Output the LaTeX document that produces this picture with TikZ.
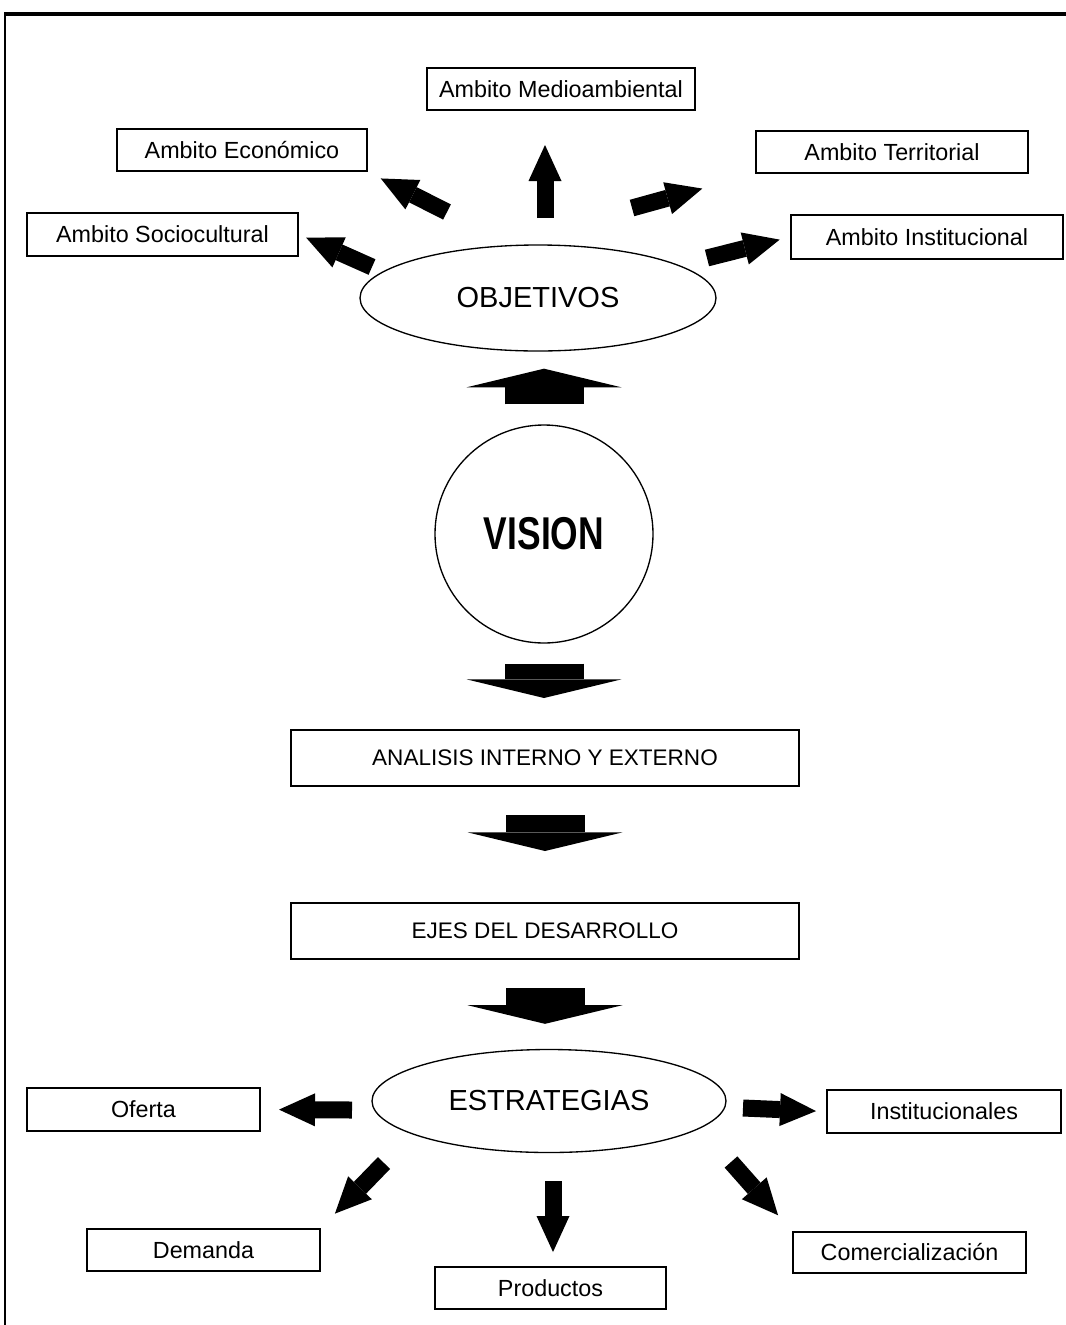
\documentclass[tikz,border=0pt]{standalone}
\usepackage{fontspec}
\setmainfont{Liberation Sans}
\usetikzlibrary{shapes.geometric}
\usetikzlibrary{arrows.meta}
\usetikzlibrary{calc}

\tikzset{
  ambito/.style={draw, line width=1.5pt, inner sep=0pt, minimum height=31.5pt,
    font=\fontsize{17.5}{20}\selectfont},
  etapa/.style={draw, line width=1.5pt, inner sep=0pt, minimum width=381pt,
    minimum height=42pt, font=\fontsize{16.9}{20}\selectfont},
  bloque/.style={draw, ellipse, line width=1pt, inner sep=0pt,
    font=\fontsize{21.75}{24}\selectfont},
  fatarrow/.style={line width=12.75pt,
    -{Triangle[width=24.75pt,length=27pt,line width=0pt]}},
  widearrow/.style={line width=59.25pt,
    -{Triangle[width=116.25pt,length=14pt,line width=0pt]}},
}

\begin{document}
\begin{tikzpicture}[x=0.75pt, y=-0.75pt]
\useasboundingbox (0,0) rectangle (1066,1325);

%---------------------------------------
% Frame (top and left only)
%---------------------------------------
\draw[line width=3pt] (5,14) -- (1066,14);
\draw[line width=1.5pt] (5,12) -- (5,1325);

%====================================================
% TOP: objetivos and ambitos
%====================================================
\node[bloque, minimum width=267pt, minimum height=79.5pt] (obj) at (538,298) {OBJETIVOS};

\node[ambito, minimum width=201pt] (medio) at (561,89) {Ambito Medioambiental};
\node[ambito, minimum width=187.5pt] (eco) at (242,150) {Ambito Económico};
\node[ambito, minimum width=204pt] (ter) at (892,152) {Ambito Territorial};
\node[ambito, minimum width=203.25pt, minimum height=32.25pt] (soc) at (162.5,234.5) {Ambito Sociocultural};
\node[ambito, minimum width=204pt, minimum height=33pt] (ins) at (927,237) {Ambito Institucional};

% tails of the arrows
\coordinate (o-up) at (545,218);
\coordinate (o-eco) at (447,212);
\coordinate (o-soc) at (372,267);
\coordinate (o-ter) at (632,208);
\coordinate (o-ins) at (707,258);

\draw[fatarrow, shorten >=25.5pt] (o-up) -- (o-up |- medio.south);
\draw[fatarrow, shorten >=10.7pt] (o-eco) -- (eco.south east);
\draw[fatarrow, shorten >=5.9pt] (o-soc) -- (soc.east);
\draw[fatarrow, shorten >=41pt] (o-ter) -- (ter.south west);
\draw[fatarrow, shorten >=8pt] (o-ins) -- (ins.west);

%====================================================
% MIDDLE: vision, analisis, ejes
%====================================================
\node[draw, circle, line width=1pt, inner sep=0pt, minimum size=163.5pt,
      font=\fontsize{34.5}{36}\selectfont\bfseries] (vision) at (544,534)
      {\scalebox{0.77}[1]{VISION}};

\node[etapa] (analisis) at (545,758) {ANALISIS INTERNO Y EXTERNO};
\node[etapa] (ejes) at (545,931) {EJES DEL DESARROLLO};

\draw[widearrow, shorten <=15pt, shorten >=12.75pt] (vision.north) -- (vision.north |- obj.south);
\draw[widearrow, shorten <=15pt, shorten >=23.25pt] (vision.south) -- (vision.south |- analisis.north);
\draw[widearrow, shorten <=21pt, shorten >=38.25pt] (analisis.south) -- (analisis.south |- ejes.north);

%====================================================
% BOTTOM: estrategias
%====================================================
\node[bloque, minimum width=265.5pt, minimum height=77.25pt] (estr) at (549,1101) {ESTRATEGIAS};

\draw[widearrow, shorten <=21pt, shorten >=18.75pt] (ejes.south) -- (ejes.south |- estr.north);

\node[ambito, minimum width=174.75pt, minimum height=32.25pt] (oferta) at (143.5,1109.5) {Oferta};
\node[ambito, minimum width=175.5pt, minimum height=32.25pt] (instit) at (944,1111.5) {Institucionales};
\node[ambito, minimum width=174.75pt] (demanda) at (203.5,1250) {Demanda};
\node[ambito, minimum width=173.25pt] (productos) at (550.5,1288) {Productos};
\node[ambito, minimum width=174.75pt, minimum height=30.75pt] (comer) at (909.5,1252.5) {Comercialización};

\coordinate (e-of) at (352,1110);
\coordinate (e-in) at (743,1108);
\coordinate (e-de) at (384,1163);
\coordinate (e-pr) at (553,1181);
\coordinate (e-co) at (731,1162);

\draw[fatarrow, shorten >=13.5pt] (e-of) -- (oferta.east);
\draw[fatarrow, shorten >=7.5pt] (e-in) -- (instit.west);
\draw[fatarrow, shorten >=15pt] (e-de) -- (demanda.north east);
\draw[fatarrow, shorten >=10.5pt] (e-pr) -- (e-pr |- productos.north);
\draw[fatarrow, shorten >=15.75pt] (e-co) -- (comer.north west);

\end{tikzpicture}
\end{document}
